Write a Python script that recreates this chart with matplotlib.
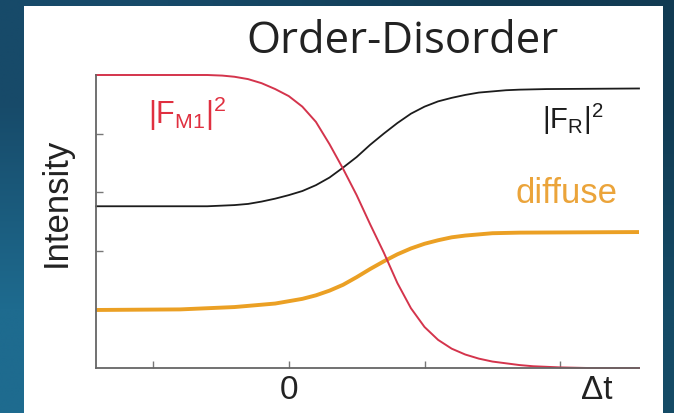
import numpy as np
import matplotlib.pyplot as plt
from matplotlib.patches import Rectangle
from matplotlib.colors import to_rgb

plt.rcParams['mathtext.fontset'] = 'custom'
plt.rcParams['mathtext.rm'] = 'Liberation Sans'
plt.rcParams['mathtext.it'] = 'Liberation Sans'

# delay axis (units of tick spacing) and curve intensities
red_t = [-1.42, -0.6, -0.49, -0.4, -0.3, -0.2, -0.1, 0.0, 0.1, 0.2, 0.3, 0.4,
         0.5, 0.6, 0.7, 0.8, 0.9, 1.0, 1.1, 1.2, 1.3, 1.4, 1.5, 1.6, 1.7,
         1.8, 1.9, 2.0, 2.2, 2.58]
red_y = [5.00, 5.00, 4.99, 4.97, 4.93, 4.86, 4.76, 4.64, 4.46, 4.20, 3.82, 3.40,
         2.95, 2.45, 1.97, 1.45, 1.02, 0.70, 0.48, 0.33, 0.23, 0.16, 0.11, 0.08, 0.05,
         0.03, 0.02, 0.01, 0.00, 0.00]

black_t = [-1.42, -0.6, -0.5, -0.4, -0.3, -0.2, -0.1, 0.0, 0.1, 0.2, 0.3, 0.4,
           0.5, 0.6, 0.7, 0.8, 0.9, 1.0, 1.1, 1.2, 1.3, 1.4, 1.5, 1.6, 1.7,
           1.9, 2.58]
black_y = [2.76, 2.76, 2.77, 2.78, 2.80, 2.84, 2.89, 2.95, 3.02, 3.12, 3.25, 3.42,
           3.60, 3.81, 4.00, 4.18, 4.34, 4.46, 4.55, 4.61, 4.66, 4.70, 4.72, 4.74, 4.75,
           4.76, 4.77]

orange_t = [-1.42, -0.8, -0.6, -0.4, -0.3, -0.2, -0.1, 0.0, 0.1, 0.2, 0.3, 0.4,
            0.5, 0.6, 0.7, 0.8, 0.9, 1.0, 1.1, 1.2, 1.3, 1.4, 1.5, 1.7, 2.58]
orange_y = [0.99, 1.00, 1.02, 1.04, 1.06, 1.08, 1.10, 1.14, 1.18, 1.24, 1.32, 1.42,
            1.55, 1.69, 1.82, 1.94, 2.04, 2.12, 2.18, 2.23, 2.26, 2.28, 2.30, 2.31, 2.32]

x_ticks = [-1, 0, 1, 2]
x_labels = ['', '0', '', '']
y_ticks = [1, 2, 3, 4]

fig = plt.figure(figsize=(6.74, 4.13), dpi=100)

# blue slide background with a soft gradient
bg = fig.add_axes([0, 0, 1, 1])
corners = np.array([[to_rgb('#174a69'), to_rgb('#113b53')],
                    [to_rgb('#1e6b8f'), to_rgb('#154b66')]])
bg.imshow(corners, aspect='auto', interpolation='bilinear', extent=[0, 1, 0, 1])
bg.set_xlim(0, 1)
bg.set_ylim(0, 1)
bg.axis('off')
bg.add_patch(Rectangle((24 / 674, 0), (663 - 24) / 674, 1 - 6 / 413,
                       facecolor='white', edgecolor='none'))

ax = fig.add_axes([96 / 674, 1 - 368 / 413, (639 - 96) / 674, (368 - 75) / 413])
ax.set_facecolor('none')
ax.plot(orange_t, orange_y, color='#eba024', lw=2.8, clip_on=False, solid_capstyle='butt')
ax.plot(black_t, black_y, color='#1c1c1c', lw=1.3, clip_on=False)
ax.plot(red_t, red_y, color='#d4344c', lw=1.4, clip_on=False)

ax.set_xlim(-1.42, 2.58)
ax.set_ylim(0, 5)
ax.set_xticks(x_ticks)
ax.set_xticklabels(x_labels)
ax.set_yticks(y_ticks)
ax.set_yticklabels([])
ax.tick_params(direction='in', length=5, width=1, color='#777777',
               labelsize=24, pad=5)
for lab in ax.get_xticklabels():
    lab.set_fontfamily('Liberation Sans')
    lab.set_color('#222222')
for s in ['top', 'right']:
    ax.spines[s].set_visible(False)
for s in ['left', 'bottom']:
    ax.spines[s].set_color('#666666')
    ax.spines[s].set_linewidth(1.3)

fig.text(56 / 674, 1 - 202 / 413, 'Intensity', fontsize=25, family='Liberation Sans',
         color='#222222', rotation=90, ha='center', va='center')
ax.text(2.27, -0.376, 'Δt', fontsize=24, family='Liberation Sans',
        color='#222222', ha='center', va='center')

ax.text(-0.75, 4.34, r'$\mathrm{|F_{M1}|^2}$', fontsize=22, color='#e03040',
        ha='center', va='center')
ax.text(2.09, 4.24, r'$\mathrm{|F_{R}|^2}$', fontsize=21, color='#1c1c1c',
        ha='center', va='center')
ax.text(2.045, 2.82, 'diffuse', fontsize=25, family='Liberation Sans',
        color='#eba43a', ha='center', va='baseline')

fig.text(402 / 674, 1 - 42 / 413, 'Order-Disorder', fontsize=31.5,
         family='Open Sans', color='#222222', ha='center', va='center')

fig.savefig('out.png', dpi=100)
